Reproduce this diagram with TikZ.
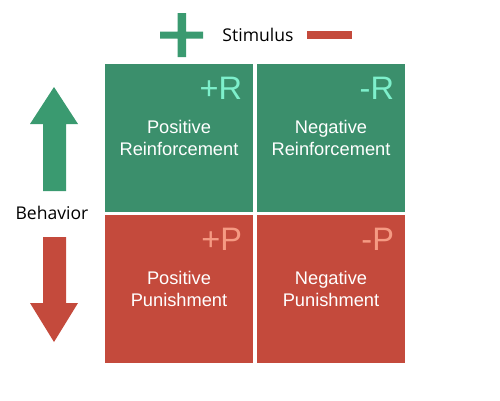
\documentclass[tikz,border=0pt]{standalone}
\usepackage{fontspec}
\setmainfont{Liberation Sans}
\newfontfamily\headfont{Open Sans}
\definecolor{reinf}{HTML}{3B8F6C}
\definecolor{punish}{HTML}{C44A3C}
\definecolor{reinftag}{HTML}{7EF0CC}
\definecolor{punishtag}{HTML}{F59A83}
\definecolor{upgreen}{HTML}{3A9A70}
\begin{document}
\begin{tikzpicture}[x=0.02cm,y=-0.02cm,
    cell/.style={minimum width=2.96cm,minimum height=2.96cm,inner sep=0pt,text=white,align=center,font=\fontsize{10.4}{12}\selectfont},
    tag/.style={anchor=north east,inner sep=0pt,font=\fontsize{18.5}{20}\selectfont},
    head/.style={font=\headfont\fontsize{10}{12}\selectfont}]
        \useasboundingbox (0,0) rectangle (500,400);
        \foreach \name/\cx/\cy/\col/\lbl/\tagcol/\txt in {posR/179/138/reinf/+R/reinftag/{Positive\\Reinforcement},negR/331/138/reinf/-R/reinftag/{Negative\\Reinforcement},posP/179/289/punish/+P/punishtag/{Positive\\Punishment},negP/331/289/punish/-P/punishtag/{Negative\\Punishment}}{\node[cell,fill=\col] (\name) at (\cx,\cy) {\txt}; \node[tag,text=\tagcol] (\name-tag) at ([xshift=-0.22cm,yshift=-0.26cm]\name.north east) {\lbl};}
        % stimulus sign
        \fill[upgreen] (160,31.5) rectangle (203,38.5) (177.5,13) rectangle (186,57);
        \node[head] (stim) at (258,35) {Stimulus};
        \fill[punish] (307,31) rectangle (352,39);
        % behavior arrows
        \fill[upgreen] (43,191) -- (43,124) -- (30,124) -- (54,87) -- (78,124) -- (66,124) -- (66,191) -- cycle;
        \node[head] (beh) at (52,213) {Behavior};
        \fill[punish] (43,237) -- (43,303) -- (30,303) -- (54,342) -- (78,303) -- (66,303) -- (66,237) -- cycle;
    \end{tikzpicture}
\end{document}
